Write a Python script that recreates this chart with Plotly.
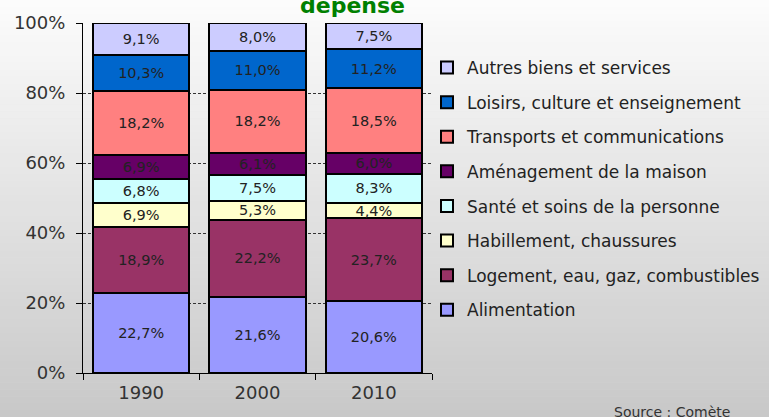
import plotly.graph_objects as go

years = ["1990", "2000", "2010"]
categories = [
    "Alimentation",
    "Logement, eau, gaz, combustibles",
    "Habillement, chaussures",
    "Santé et soins de la personne",
    "Aménagement de la maison",
    "Transports et communications",
    "Loisirs, culture et enseignement",
    "Autres biens et services",
]
alimentation = [22.7, 21.6, 20.6]
logement = [18.9, 22.2, 23.7]
habillement = [6.9, 5.3, 4.4]
sante = [6.8, 7.5, 8.3]
amenagement = [6.9, 6.1, 6.0]
transports = [18.2, 18.2, 18.5]
loisirs = [10.3, 11.0, 11.2]
autres = [9.1, 8.0, 7.5]
series = [alimentation, logement, habillement, sante, amenagement, transports, loisirs, autres]
colors = ["#9999FF", "#993366", "#FFFFCC", "#CCFFFF", "#660066", "#FF8080", "#0066CC", "#CCCCFF"]
y_ticks = [0, 20, 40, 60, 80, 100]

FONT = "DejaVu Sans, Verdana, sans-serif"
W, H = 769, 417
L, R, T, B = 83, 337, 23, 44
pw, ph = W - L - R, H - T - B

def px_x(x):
    return (x - L) / pw

def px_y(y):
    return 1 - (y - T) / ph

fig = go.Figure()
n_series = len(categories)
for i, (name, vals, col) in enumerate(zip(categories, series, colors)):
    fig.add_trace(go.Bar(
        x=years, y=vals, name=name,
        marker=dict(color=col, line=dict(color="black", width=2)),
        text=[f"{v:.1f}%".replace(".", ",") for v in vals],
        textposition="inside", insidetextanchor="middle", textangle=0,
        textfont=dict(family=FONT, size=14.5, color="#222222"),
        legendgroup=f"g{i}", legendrank=n_series - i,
        hoverinfo="skip",
    ))

# background gradient (white to gray)
shapes = []
n = 60
top_c, bot_c = 252, 200
for k in range(n):
    c = int(round(top_c + (bot_c - top_c) * (k + 0.5) / n))
    shapes.append(dict(
        type="rect", xref="paper", yref="paper", layer="below",
        x0=px_x(0), x1=px_x(W),
        y0=px_y(k / n * H), y1=px_y((k + 1) / n * H + 0.5),
        line=dict(width=0), fillcolor=f"rgb({c},{c},{c})",
    ))

fig.update_layout(
    width=W, height=H,
    margin=dict(l=L, r=R, t=T, b=B, pad=0, autoexpand=False),
    barmode="stack", barnorm="percent", bargap=0.17,
    paper_bgcolor="rgb(225,225,225)", plot_bgcolor="rgba(0,0,0,0)",
    font=dict(family=FONT, size=16, color="#333333"),
    uniformtext=dict(minsize=14, mode="show"),
    showlegend=True,
    legend=dict(
        x=px_x(427), y=px_y(50), xanchor="left", yanchor="top",
        traceorder="grouped", tracegroupgap=9.5,
        font=dict(family=FONT, size=17, color="#222222"),
        bgcolor="rgba(0,0,0,0)",
    ),
    shapes=shapes,
    annotations=[
        dict(text="<b>dépense</b>", xref="paper", yref="paper",
             x=px_x(352), y=px_y(20), xanchor="center", yanchor="bottom",
             showarrow=False, font=dict(family=FONT, size=22, color="#008000")),
        dict(text="Source : Comète", xref="paper", yref="paper",
             x=px_x(732), y=px_y(412), xanchor="right", yanchor="middle",
             showarrow=False, font=dict(family=FONT, size=14, color="#333333")),
    ],
)
fig.update_yaxes(
    range=[0, 100], tickvals=y_ticks, ticktext=[f"{v}%" for v in y_ticks],
    showline=True, linecolor="black", linewidth=1,
    ticks="outside", ticklen=6, tickcolor="black", ticklabelstandoff=7,
    showgrid=True, gridcolor="#333333", gridwidth=1, griddash="3px,2px",
    zeroline=False, tickfont=dict(size=18, color="#333333"), automargin=False,
)
fig.update_xaxes(
    showline=True, linecolor="black", linewidth=1,
    ticks="outside", tickson="boundaries", ticklen=6, tickcolor="black", ticklabelstandoff=3,
    tickfont=dict(size=18, color="#333333"), automargin=False,
)
fig.write_html(
    "out.html",
    config={"displayModeBar": False},
    post_script="document.body.style.margin='0';document.body.style.overflow='hidden';",
)
